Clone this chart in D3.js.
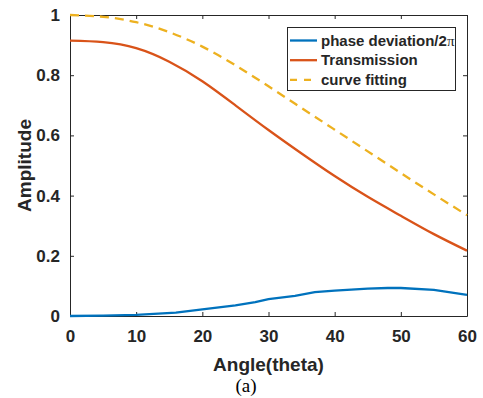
<!DOCTYPE html>
<html>
<head>
<meta charset="utf-8">
<script src="https://cdn.jsdelivr.net/npm/d3@7"></script>
<style>
  html, body { margin: 0; padding: 0; background: #fff; }
  .vis { width: 483px; height: 398px; }
  text { font-family: "Liberation Sans", Arial, sans-serif; font-weight: bold; fill: #262626; }
</style>
</head>
<body>
<div class="vis"></div>
<script>
(function() {
  'use strict';

  // values
  var angles = [0, 5, 10, 15, 20, 25, 30, 35, 40, 45, 50, 55, 60];
  var transmission = [0.915, 0.910, 0.890, 0.845, 0.780, 0.700, 0.618, 0.540, 0.465, 0.396, 0.333, 0.272, 0.217];
  var fitting = [1.0, 0.994, 0.976, 0.943, 0.895, 0.833, 0.763, 0.691, 0.619, 0.547, 0.475, 0.404, 0.335];
  var phaseAngles = [0, 5, 10, 16, 20, 25, 28, 30, 34, 37, 40, 45, 48, 50, 55, 60];
  var phase = [0, 0.001, 0.004, 0.011, 0.022, 0.035, 0.046, 0.056, 0.067, 0.079, 0.084, 0.091, 0.093, 0.093, 0.087, 0.07];
  var xTicks = [0, 10, 20, 30, 40, 50, 60];
  var yTicks = [0, 0.2, 0.4, 0.6, 0.8, 1];
  var legendNames = ['phase deviation/2', 'Transmission', 'curve fitting'];

  var el = d3.select('.vis'),
    elWidth = 483,
    elHeight = 398,
    margin = {top: 15, right: 16, bottom: 82, left: 70},
    width = elWidth - margin.left - margin.right,
    height = elHeight - margin.top - margin.bottom;

  var root = el.append('svg')
      .attr('width', elWidth)
      .attr('height', elHeight);

  var svg = root.append('g')
      .attr('transform', 'translate(' + margin.left + ',' + margin.top + ')');

  var x = d3.scaleLinear().domain([0, 60]).range([0, width]);
  var y = d3.scaleLinear().domain([0, 1]).range([height, 0]);

  var series = [
    {name: legendNames[0], color: '#0072BD', dash: null, xs: phaseAngles, ys: phase, curve: d3.curveLinear},
    {name: legendNames[1], color: '#D95319', dash: null, xs: angles, ys: transmission, curve: d3.curveNatural},
    {name: legendNames[2], color: '#EDB120', dash: '9,6', xs: angles, ys: fitting, curve: d3.curveNatural}
  ];

  // axes, ticks pointing inward like matlab
  var tickLen = 4;
  svg.append('g')
      .attr('transform', 'translate(0,' + height + ')')
      .call(d3.axisBottom(x).tickValues(xTicks).tickSizeInner(-tickLen).tickSizeOuter(0).tickPadding(14))
      .call(styleAxis);
  svg.append('g')
      .call(d3.axisTop(x).tickValues(xTicks).tickSizeInner(-tickLen).tickSizeOuter(0).tickFormat(''))
      .call(styleAxis);
  svg.append('g')
      .call(d3.axisLeft(y).tickValues(yTicks).tickSizeInner(-tickLen).tickSizeOuter(0).tickPadding(10)
        .tickFormat(function(d) { return d3.format('~g')(d); }))
      .call(styleAxis);
  svg.append('g')
      .attr('transform', 'translate(' + width + ',0)')
      .call(d3.axisRight(y).tickValues(yTicks).tickSizeInner(-tickLen).tickSizeOuter(0).tickFormat(''))
      .call(styleAxis);

  function styleAxis(g) {
    g.select('.domain').attr('stroke', '#262626').attr('stroke-width', 1);
    g.selectAll('.tick line').attr('stroke', '#262626');
    g.selectAll('.tick text')
      .attr('font-size', 17)
      .attr('font-family', '"Liberation Sans", Arial, sans-serif')
      .attr('font-weight', 'bold')
      .attr('fill', '#262626');
  }

  // lines
  series.forEach(function(s) {
    var line = d3.line()
      .x(function(d, i) { return x(s.xs[i]); })
      .y(function(d) { return y(d); })
      .curve(s.curve);
    svg.append('path')
      .datum(s.ys)
      .attr('fill', 'none')
      .attr('stroke', s.color)
      .attr('stroke-width', 2.3)
      .attr('stroke-dasharray', s.dash)
      .attr('d', line);
  });

  // axis titles
  svg.append('text')
      .attr('x', width / 2)
      .attr('y', height + 55)
      .attr('text-anchor', 'middle')
      .attr('font-size', 19)
      .text('Angle(theta)');

  svg.append('text')
      .attr('transform', 'translate(-39,' + (height / 2) + ') rotate(-90)')
      .attr('text-anchor', 'middle')
      .attr('font-size', 19)
      .text('Amplitude');

  root.append('text')
      .attr('x', 246)
      .attr('y', 392)
      .attr('text-anchor', 'middle')
      .attr('font-size', 19)
      .style('font-family', '"Liberation Serif", "Times New Roman", serif')
      .style('font-weight', 'normal')
      .style('fill', '#000')
      .text('(a)');

  // legend
  var legend = root.append('g')
      .attr('transform', 'translate(287,27)');
  legend.append('rect')
      .attr('x', 0.5)
      .attr('y', 0.5)
      .attr('width', 168)
      .attr('height', 63)
      .attr('fill', '#fff')
      .attr('stroke', '#262626')
      .attr('stroke-width', 1);

  var items = legend.selectAll('.item')
      .data(series)
    .enter().append('g')
      .attr('class', 'item')
      .attr('transform', function(d, i) { return 'translate(0,' + (13.5 + i * 19.7) + ')'; });

  items.append('line')
      .attr('x1', 3)
      .attr('x2', 30)
      .attr('stroke', function(d) { return d.color; })
      .attr('stroke-width', 2.3)
      .attr('stroke-dasharray', function(d) { return d.dash ? '7,7' : null; });

  var labels = items.append('text')
      .attr('x', 34)
      .attr('dy', '0.35em')
      .attr('font-size', 15)
      .text(function(d) { return d.name; });

  // pi in the symbol font
  labels.filter(function(d, i) { return i === 0; })
    .append('tspan')
      .style('font-family', '"Liberation Serif", "Times New Roman", serif')
      .style('font-weight', 'normal')
      .text('\u03c0');

}());
</script>
</body>
</html>
